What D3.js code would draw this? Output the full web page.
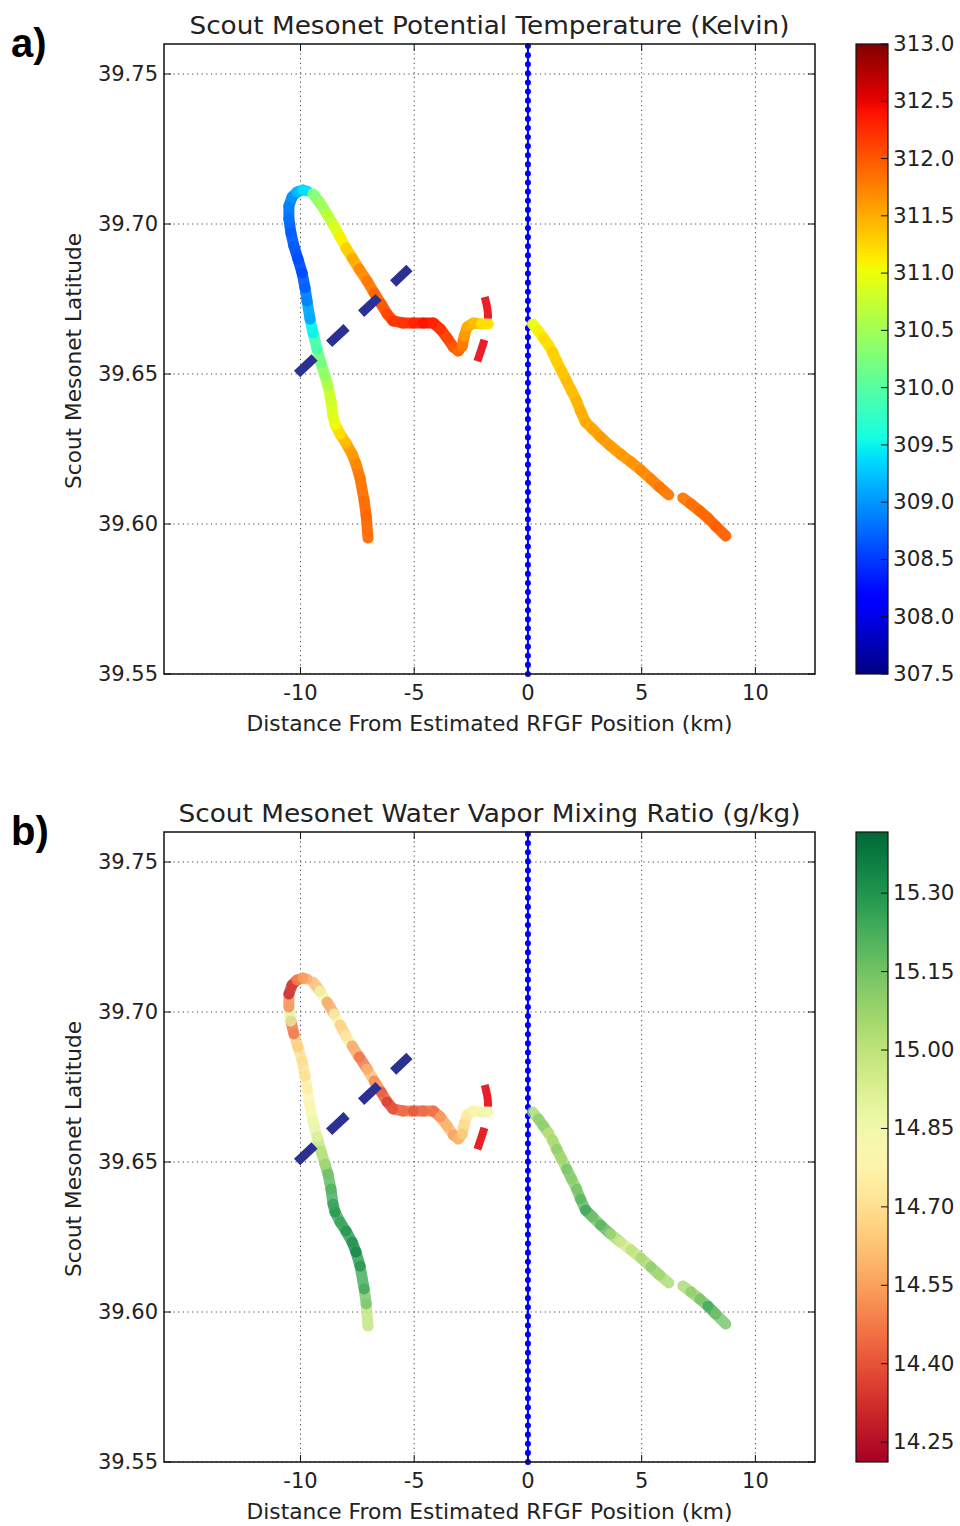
<!DOCTYPE html>
<html>
<head>
<meta charset="utf-8">
<script src="https://cdn.jsdelivr.net/npm/d3@7"></script>
<style>
  body { margin: 0; background: #fff; }
  text { font-family: "DejaVu Sans", sans-serif; fill: #222; }
</style>
</head>
<body>
<div id="chart"></div>
<script>
// axis ranges / ticks
const distDomain = [-16, 12.62];
const latDomain = [39.55, 39.76];
const distTicks = [-10, -5, 0, 5, 10];
const latTicks = [39.55, 39.60, 39.65, 39.70, 39.75];

const thetaDomain = [307.5, 313.0];
const thetaTicks = [307.5, 308.0, 308.5, 309.0, 309.5, 310.0, 310.5, 311.0, 311.5, 312.0, 312.5, 313.0];
const mixDomain = [14.212, 15.417];
const mixTicks = [14.25, 14.40, 14.55, 14.70, 14.85, 15.00, 15.15, 15.30];

// scout track legs: [distance km, latitude, theta K, mixing ratio g/kg]
const legSouthWest = [
  [-7.03, 39.5953, 311.9, 15.00], [-7.11, 39.6027, 311.9, 15.15], [-7.20, 39.6077, 311.85, 15.25],
  [-7.38, 39.6153, 311.8, 15.30], [-7.56, 39.6200, 311.7, 15.35], [-7.73, 39.6233, 311.6, 15.30],
  [-8.00, 39.6270, 311.4, 15.30], [-8.26, 39.6300, 311.2, 15.25], [-8.48, 39.6333, 311.0, 15.30],
  [-8.57, 39.6360, 310.9, 15.25], [-8.66, 39.6410, 310.8, 15.20], [-8.79, 39.6460, 310.6, 15.15],
  [-8.92, 39.6493, 310.4, 15.05], [-9.10, 39.6537, 310.2, 15.00], [-9.27, 39.6583, 309.9, 14.90],
  [-9.45, 39.6637, 309.5, 14.85], [-9.58, 39.6683, 309.1, 14.80], [-9.71, 39.6743, 308.9, 14.75],
  [-9.80, 39.6787, 308.7, 14.70], [-9.93, 39.6837, 308.6, 14.70], [-10.11, 39.6883, 308.6, 14.65],
  [-10.29, 39.6927, 308.7, 14.45], [-10.42, 39.6970, 308.7, 14.90], [-10.51, 39.7017, 308.8, 14.50],
  [-10.51, 39.7060, 308.9, 14.30], [-10.37, 39.7090, 309.0, 14.35], [-10.15, 39.7107, 309.2, 14.50],
  [-9.89, 39.7113, 309.4, 14.55], [-9.71, 39.7110, 309.5, 14.60]
];
const legNorth = [
  [-9.45, 39.7100, 310.3, 14.60], [-9.14, 39.7070, 310.5, 14.85], [-8.83, 39.7033, 310.7, 14.55],
  [-8.52, 39.6993, 310.9, 14.80], [-8.26, 39.6957, 311.1, 14.65], [-8.00, 39.6920, 311.3, 14.75],
  [-7.73, 39.6887, 311.5, 14.55], [-7.42, 39.6850, 311.7, 14.45], [-7.07, 39.6810, 311.8, 14.60],
  [-6.76, 39.6770, 311.9, 14.50], [-6.45, 39.6733, 312.0, 14.40], [-6.19, 39.6700, 312.1, 14.35],
  [-5.93, 39.6677, 312.2, 14.40], [-5.48, 39.6670, 312.2, 14.45], [-5.04, 39.6670, 312.3, 14.40],
  [-4.60, 39.6670, 312.4, 14.45], [-4.16, 39.6670, 312.3, 14.45], [-3.85, 39.6650, 312.2, 14.55],
  [-3.55, 39.6620, 312.1, 14.60], [-3.28, 39.6590, 312.0, 14.55], [-3.06, 39.6577, 311.9, 14.60],
  [-2.89, 39.6593, 311.8, 14.65], [-2.80, 39.6627, 311.6, 14.70], [-2.67, 39.6657, 311.5, 14.75],
  [-2.40, 39.6670, 311.4, 14.80], [-2.05, 39.6667, 311.2, 14.85], [-1.74, 39.6667, 311.1, 14.95]
];
const legEast = [
  [0.20, 39.6667, 311.0, 15.05], [0.46, 39.6643, 311.1, 15.10], [0.68, 39.6620, 311.2, 15.10],
  [0.90, 39.6597, 311.2, 15.00], [1.08, 39.6573, 311.3, 15.05], [1.26, 39.6543, 311.3, 15.10],
  [1.48, 39.6510, 311.35, 15.05], [1.70, 39.6477, 311.4, 15.15], [1.92, 39.6443, 311.4, 15.10],
  [2.14, 39.6410, 311.45, 15.15], [2.31, 39.6377, 311.5, 15.20], [2.53, 39.6340, 311.5, 15.25],
  [2.84, 39.6317, 311.55, 15.15], [3.19, 39.6290, 311.6, 15.20], [3.63, 39.6260, 311.6, 15.05],
  [4.07, 39.6233, 311.6, 14.95], [4.52, 39.6207, 311.65, 15.00], [4.96, 39.6180, 311.7, 15.05],
  [5.40, 39.6150, 311.75, 15.10], [5.79, 39.6123, 311.8, 15.05], [6.19, 39.6097, 311.8, 15.00]
];
const legSouthEast = [
  [6.81, 39.6087, 311.8, 15.05], [7.16, 39.6067, 311.85, 15.10], [7.56, 39.6043, 311.9, 15.15],
  [7.91, 39.6020, 311.9, 15.25], [8.26, 39.5993, 311.95, 15.15], [8.70, 39.5960, 311.95, 15.00]
];
const legs = [legSouthWest, legNorth, legEast, legSouthEast];

// annotations
const rfgfDist = 0;
const blueDash = [[-10.15, 39.6500], [-5.21, 39.6853]];
const redArc = [[-1.90, 39.6757], [-1.77, 39.6710], [-1.77, 39.6663], [-1.90, 39.6617], [-2.25, 39.6537]];

// matplotlib jet colormap stops
const jetPos = [0, 0.11, 0.125, 0.34, 0.35, 0.375, 0.64, 0.65, 0.66, 0.89, 0.91, 1];
const jetCol = ["#000080", "#0000ff", "#0000ff", "#00dbff", "#00e6f7", "#15ffe2",
                "#efff08", "#f7f500", "#ffec00", "#ff1300", "#e80000", "#800000"];

const W = 960, H = 1526;
const plotL = 164, plotR = 815, plotH = 630;
const cbL = 856, cbW = 32;

const svg = d3.select("#chart").append("svg")
  .attr("width", W).attr("height", H);
const defs = svg.append("defs");

const x = d3.scaleLinear().domain(distDomain).range([plotL, plotR]);

const jetT = d3.scaleLinear().domain(jetPos).range(jetCol).clamp(true);
const thetaColor = v => jetT((v - thetaDomain[0]) / (thetaDomain[1] - thetaDomain[0]));
const mixNorm = d3.scaleLinear().domain(mixDomain).range([0, 1]).clamp(true);
const mixColor = v => d3.interpolateRdYlGn(mixNorm(v));

function drawPanel(cfg) {
  const top = cfg.top;
  const y = d3.scaleLinear().domain(latDomain).range([top + plotH, top]);
  const g = svg.append("g");

  // grid
  g.selectAll(".gx").data(distTicks).join("line")
    .attr("x1", d => x(d)).attr("x2", d => x(d))
    .attr("y1", top).attr("y2", top + plotH)
    .attr("stroke", "#444").attr("stroke-width", 1).attr("stroke-dasharray", "1.2 3.5");
  g.selectAll(".gy").data(latTicks).join("line")
    .attr("x1", plotL).attr("x2", plotR)
    .attr("y1", d => y(d)).attr("y2", d => y(d))
    .attr("stroke", "#444").attr("stroke-width", 1).attr("stroke-dasharray", "1.2 3.5");

  // estimated RFGF position
  g.append("line")
    .attr("x1", x(rfgfDist)).attr("x2", x(rfgfDist))
    .attr("y1", top).attr("y2", top + plotH)
    .attr("stroke", "#0000ff").attr("stroke-width", 2);
  g.append("line")
    .attr("x1", x(rfgfDist)).attr("x2", x(rfgfDist))
    .attr("y1", top + 2).attr("y2", top + plotH)
    .attr("stroke", "#0000ff").attr("stroke-width", 6)
    .attr("stroke-linecap", "round").attr("stroke-dasharray", "0.1 9");

  // track segments coloured by value
  legs.forEach(leg => {
    const segs = d3.pairs(leg);
    g.append("g").selectAll("line").data(segs).join("line")
      .attr("x1", d => x(d[0][0])).attr("y1", d => y(d[0][1]))
      .attr("x2", d => x(d[1][0])).attr("y2", d => y(d[1][1]))
      .attr("stroke", d => cfg.color(d[0][cfg.idx]))
      .attr("stroke-width", 11).attr("stroke-linecap", "round")
      .attr("opacity", cfg.opacity);
  });

  const line = d3.line().x(d => x(d[0])).y(d => y(d[1]));
  g.append("path").attr("d", line(blueDash))
    .attr("fill", "none").attr("stroke", "#2b3192").attr("stroke-width", 9)
    .attr("stroke-dasharray", "24 20");
  g.append("path").attr("d", line.curve(d3.curveCatmullRom)(redArc))
    .attr("fill", "none").attr("stroke", "#e8202a").attr("stroke-width", 8)
    .attr("stroke-dasharray", "22 22");

  // frame
  g.append("rect").attr("x", plotL).attr("y", top)
    .attr("width", plotR - plotL).attr("height", plotH)
    .attr("fill", "none").attr("stroke", "#111").attr("stroke-width", 1.5);

  // inward ticks on all four sides
  const tl = 7;
  distTicks.forEach(d => {
    g.append("line").attr("x1", x(d)).attr("x2", x(d)).attr("y1", top + plotH).attr("y2", top + plotH - tl).attr("stroke", "#111");
    g.append("line").attr("x1", x(d)).attr("x2", x(d)).attr("y1", top).attr("y2", top + tl).attr("stroke", "#111");
  });
  latTicks.forEach(d => {
    g.append("line").attr("x1", plotL).attr("x2", plotL + tl).attr("y1", y(d)).attr("y2", y(d)).attr("stroke", "#111");
    g.append("line").attr("x1", plotR).attr("x2", plotR - tl).attr("y1", y(d)).attr("y2", y(d)).attr("stroke", "#111");
  });

  // tick labels
  g.selectAll(".xl").data(distTicks).join("text")
    .attr("x", d => x(d)).attr("y", top + plotH + 26)
    .attr("text-anchor", "middle").attr("font-size", 21)
    .text(d => d);
  g.selectAll(".yl").data(latTicks).join("text")
    .attr("x", plotL - 6).attr("y", d => y(d) + 7)
    .attr("text-anchor", "end").attr("font-size", 21)
    .text(d => d.toFixed(2));

  // labels
  g.append("text").attr("x", (plotL + plotR) / 2).attr("y", top - 10)
    .attr("text-anchor", "middle").attr("font-size", 24)
    .attr("textLength", cfg.titleW).attr("lengthAdjust", "spacingAndGlyphs")
    .text(cfg.title);
  g.append("text").attr("x", (plotL + plotR) / 2).attr("y", top + plotH + 57)
    .attr("text-anchor", "middle").attr("font-size", 22)
    .attr("textLength", 486).attr("lengthAdjust", "spacingAndGlyphs")
    .text("Distance From Estimated RFGF Position (km)");
  g.append("text")
    .attr("transform", `translate(81,${top + plotH / 2 + 2}) rotate(-90)`)
    .attr("text-anchor", "middle").attr("font-size", 22)
    .attr("textLength", 256).attr("lengthAdjust", "spacingAndGlyphs")
    .text("Scout Mesonet Latitude");
  g.append("text").attr("x", 11).attr("y", top + 13)
    .attr("font-size", 40).attr("font-weight", "bold")
    .style("font-family", "'Liberation Sans', Arial, sans-serif").style("fill", "#000")
    .text(cfg.panel);

  // colorbar
  const cy = d3.scaleLinear().domain(cfg.domain).range([top + plotH, top]);
  const gid = "grad" + cfg.panel[0];
  const grad = defs.append("linearGradient").attr("id", gid)
    .attr("x1", 0).attr("y1", 1).attr("x2", 0).attr("y2", 0);
  d3.range(0, 1.0001, 0.01).forEach(t => {
    const v = cfg.domain[0] + t * (cfg.domain[1] - cfg.domain[0]);
    grad.append("stop").attr("offset", t).attr("stop-color", cfg.color(v));
  });
  g.append("rect").attr("x", cbL).attr("y", top).attr("width", cbW).attr("height", plotH)
    .attr("fill", `url(#${gid})`).attr("stroke", "#111").attr("stroke-width", 1.2);
  cfg.ticks.forEach(t => {
    g.append("line").attr("x1", cbL + cbW - 7).attr("x2", cbL + cbW)
      .attr("y1", cy(t)).attr("y2", cy(t)).attr("stroke", "#111");
  });
  g.selectAll(".cl").data(cfg.ticks).join("text")
    .attr("x", cbL + cbW + 5).attr("y", d => cy(d) + 7)
    .attr("font-size", 21.5)
    .text(d => d.toFixed(cfg.digits));
}

drawPanel({
  top: 44, panel: "a)", title: "Scout Mesonet Potential Temperature (Kelvin)", titleW: 600,
  idx: 2, color: thetaColor, opacity: 0.95, domain: thetaDomain, ticks: thetaTicks, digits: 1
});
drawPanel({
  top: 832, panel: "b)", title: "Scout Mesonet Water Vapor Mixing Ratio (g/kg)", titleW: 622,
  idx: 3, color: mixColor, opacity: 0.78, domain: mixDomain, ticks: mixTicks, digits: 2
});
</script>
</body>
</html>
